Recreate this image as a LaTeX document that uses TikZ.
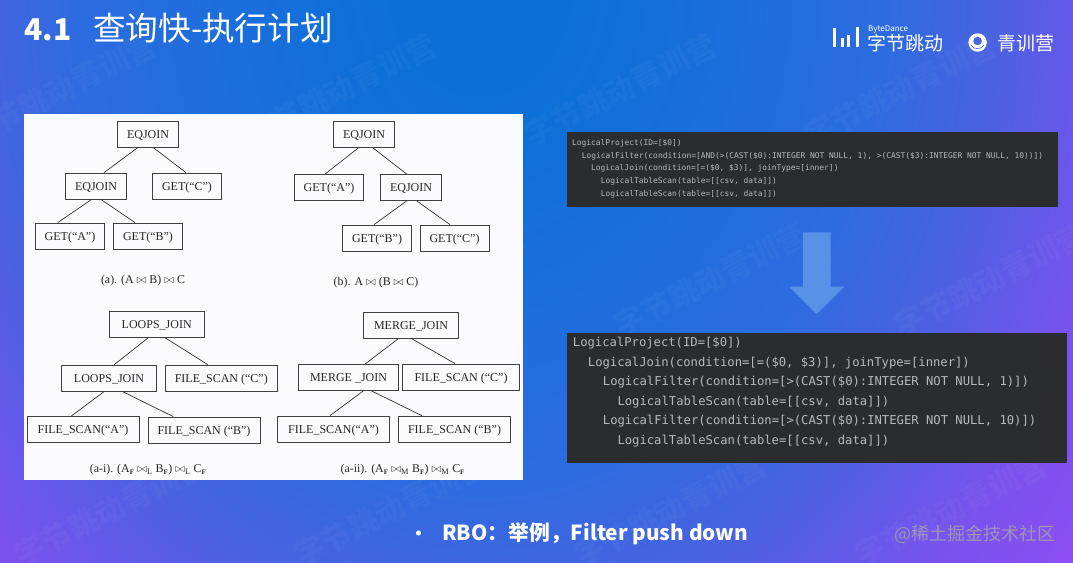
\documentclass[tikz,border=0pt]{standalone}
\usepackage{amsmath,amssymb}
\usepackage{fontspec}
\usepackage{xcolor}
\setmainfont{Liberation Serif}
\setmonofont{DejaVu Sans Mono}
\newfontfamily\cjk{Noto Sans CJK SC}
\usetikzlibrary{calc,positioning}
\definecolor{codebg}{HTML}{2B2C2D}
\definecolor{codefg}{HTML}{B6BABA}
\definecolor{arrowblue}{HTML}{5892E7}
\definecolor{ringhole}{HTML}{4060E2}
\definecolor{slideA}{HTML}{0A70D8}
\definecolor{slideB}{HTML}{2C6CE0}
\definecolor{slideC}{HTML}{4A62E0}
\definecolor{slideD}{HTML}{5A5CE8}
\definecolor{slideE}{HTML}{7A52EE}
\definecolor{slideF}{HTML}{8C4EF2}
\pgfdeclareradialshading{slidebg}{\pgfpoint{0bp}{0bp}}{%
  color(0bp)=(slideA);
  color(2.8bp)=(slideA);
  color(12.5bp)=(slideB);
  color(16.1bp)=(slideC);
  color(17.5bp)=(slideD);
  color(20.4bp)=(slideE);
  color(23.6bp)=(slideF);
  color(50bp)=(slideF)}
\newcommand{\subF}{\textsubscript{\textbf{\fontsize{6.8}{7}\selectfont F}}}

\begin{document}
\begin{tikzpicture}[x=1pt,y=-1pt,
  opbox/.style={draw=black!75,line width=0.8pt,text=black!85,font=\fontsize{12}{14}\selectfont,
    inner sep=0pt,minimum height=26,text height=8pt,text depth=0pt},
  getbox/.style={opbox,minimum width=69},
  joinbox/.style={opbox,minimum width=61},
  scanbox/.style={opbox,minimum width=112},
  bigjoin/.style={opbox,minimum width=95},
  caption/.style={text=black!85,font=\fontsize{11.9}{13}\selectfont,inner sep=0pt},
  edge/.style={draw=black!80,line width=0.7pt},
  smallcode/.style={anchor=mid west,inner sep=0pt,text=codefg,font=\ttfamily\fontsize{7.9}{9}\selectfont},
  bigcode/.style={anchor=mid west,inner sep=0pt,text=codefg,font=\ttfamily\fontsize{12.2}{14}\selectfont},
  wmark/.style={text=white,opacity=0.03,rotate=27,font=\cjk\bfseries\fontsize{30}{34}\selectfont,inner sep=0pt},
  logotext/.style={text=white,inner sep=0pt,font=\cjk\fontsize{19}{21}\selectfont}]
  \useasboundingbox (0,0) rectangle (1073,562);
  \begin{scope}
    \clip (0,0) rectangle (1073,562);
    \shade[shading=slidebg] (480,-20) ellipse (800 and 1000);
  \end{scope}
  \foreach \mx/\my/\mn in {60/90/a,340/90/b,620/90/c,900/90/d,150/280/e,430/280/f,710/280/g,990/280/h,110/510/i,390/510/j,670/510/k,950/510/l}
    \node[wmark] (mark\mn) at (\mx,\my) {字节跳动青训营};

  \node[text=white,inner sep=0pt,anchor=mid west,font=\cjk\bfseries\fontsize{30}{32}\selectfont] (titlenum) at (24,38) {4.1};
  \node[text=white,inner sep=0pt,anchor=mid west,font=\cjk\fontsize{32.6}{35}\selectfont] (title) at (93,38) {查询快-执行计划};

  \foreach \bx/\bt/\bw in {833/28/3.2,840.7/38/2.8,847.3/35/3,856/27/3.2}
    \fill[white] (\bx,\bt) rectangle ++(\bw,47-\bt);
  \node[text=white,inner sep=0pt,anchor=mid west,font=\cjk\fontsize{8}{9}\selectfont] (logobyte) at (868,29.5) {ByteDance};
  \node[logotext,anchor=mid west] (logoname) at (867,48) {字节跳动};
  \fill[white,even odd rule] (977.6,42.5) circle (9.2) (977.6,41) circle (4.4);
  \draw[ringhole,line width=0.6pt] (971,45) .. controls (974,50) and (981,50) .. (984,45);
  \node[logotext,anchor=mid west] (logocamp) at (997,48.5) {青训营};

  \fill[white!98!blue] (24,114) rectangle (523,480);
  \node[joinbox] (topa) at (148,134) {EQJOIN};
  \node[joinbox] (joina) at (96,186) {EQJOIN};
  \node[getbox] (getca) at (187,186) {GET(“C”)};
  \node[getbox] (getaa) at (70,236) {GET(“A”)};
  \node[getbox] (getba) at (148,236) {GET(“B”)};
  \draw[edge] ([xshift=-10]topa.south) -- ([xshift=8]joina.north);
  \draw[edge] ([xshift=5]topa.south) -- ([xshift=-1]getca.north);
  \draw[edge] ([xshift=-4.3]joina.south) -- ([xshift=-12.3]getaa.north);
  \draw[edge] ([xshift=5]joina.south) -- ([xshift=-13]getba.north);
  \node[caption] (capa) at (143,281) {(a). (A $\bowtie$ B) $\bowtie$ C};

  \node[joinbox] (topb) at (364,134) {EQJOIN};
  \node[getbox] (getab) at (329,187.5) {GET(“A”)};
  \node[joinbox] (joinb) at (411,187.5) {EQJOIN};
  \node[getbox] (getbb) at (377,238) {GET(“B”)};
  \node[getbox] (getcb) at (454.5,238) {GET(“C”)};
  \draw[edge] ([xshift=-5]topb.south) -- ([xshift=-4]getab.north);
  \draw[edge] ([xshift=8.3]topb.south) -- ([xshift=-4.3]joinb.north);
  \draw[edge] ([xshift=-4.3]joinb.south) -- ([xshift=-3]getbb.north);
  \draw[edge] ([xshift=5.7]joinb.south) -- ([xshift=-4.5]getcb.north);
  \node[caption] (capb) at (376,283) {(b). A $\bowtie$ (B $\bowtie$ C)};

  \node[bigjoin] (topl) at (156.7,324.3) {LOOPS\_JOIN};
  \node[bigjoin] (joinl) at (109,378) {LOOPS\_JOIN};
  \node[scanbox] (scancl) at (221.3,378) {FILE\_SCAN (“C”)};
  \node[scanbox] (scanal) at (83,429.7) {FILE\_SCAN(“A”)};
  \node[scanbox] (scanbl) at (204,430) {FILE\_SCAN (“B”)};
  \draw[edge] ([xshift=-8.4]topl.south) -- ([xshift=5.3]joinl.north);
  \draw[edge] ([xshift=8.3]topl.south) -- ([xshift=-13.6]scancl.north);
  \draw[edge] ([xshift=-4.7]joinl.south) -- ([xshift=-12]scanal.north);
  \draw[edge] ([xshift=13.3]joinl.south) -- ([xshift=-30.7]scanbl.north);
  \node[caption] (capl) at (148,469.5) {(a-i). (A\subF\ $\bowtie_{\mathrm{L}}$ B\subF) $\bowtie_{\mathrm{L}}$ C\subF};

  \node[bigjoin] (topm) at (411,325.3) {MERGE\_JOIN};
  \node[opbox,minimum width=100] (joinm) at (348.5,377.5) {MERGE \_JOIN};
  \node[scanbox,minimum width=117] (scancm) at (461,377) {FILE\_SCAN (“C”)};
  \node[scanbox] (scanam) at (333.5,429) {FILE\_SCAN(“A”)};
  \node[scanbox] (scanbm) at (454.5,429) {FILE\_SCAN (“B”)};
  \draw[edge] ([xshift=-12.7]topm.south) -- ([xshift=16.5]joinm.north);
  \draw[edge] ([xshift=0.7]topm.south) -- ([xshift=-6]scancm.north);
  \draw[edge] ([xshift=14.8]joinm.south) -- ([xshift=-3.5]scanam.north);
  \draw[edge] ([xshift=23]joinm.south) -- ([xshift=-32.8]scanbm.north);
  \node[caption] (capm) at (402.7,469.5) {(a-ii). (A\subF\ $\bowtie_{\mathrm{M}}$ B\subF) $\bowtie_{\mathrm{M}}$ C\subF};

  \fill[codebg] (567,132.3) rectangle (1057.7,206.7);
  \node[smallcode] (planone) at (572,143.3) {LogicalProject(ID=[\$0])};
  \node[smallcode] (plantwo) at (581.7,156) {LogicalFilter(condition=[AND(>(CAST(\$0):INTEGER NOT NULL, 1), >(CAST(\$3):INTEGER NOT NULL, 10))])};
  \node[smallcode] (planthree) at (591,168.7) {LogicalJoin(condition=[=(\$0, \$3)], joinType=[inner])};
  \node[smallcode] (planfour) at (600.7,181.3) {LogicalTableScan(table=[[csv, data]])};
  \node[smallcode] (planfive) at (600.7,194) {LogicalTableScan(table=[[csv, data]])};

  \fill[arrowblue] (803,232.3) -- (830.7,232.3) -- (830.7,286.7) -- (844.3,286.7) -- (816.7,314) -- (789.3,286.7) -- (803,286.7) -- cycle;

  \fill[codebg] (567.3,333.3) rectangle (1066.7,463.3);
  \node[bigcode] (optone) at (572.7,344.7) {LogicalProject(ID=[\$0])};
  \node[bigcode] (opttwo) at (587.7,364) {LogicalJoin(condition=[=(\$0, \$3)], joinType=[inner])};
  \node[bigcode] (optthree) at (602.7,383.3) {LogicalFilter(condition=[>(CAST(\$0):INTEGER NOT NULL, 1)])};
  \node[bigcode] (optfour) at (617.3,402.7) {LogicalTableScan(table=[[csv, data]])};
  \node[bigcode] (optfive) at (602.7,422) {LogicalFilter(condition=[>(CAST(\$0):INTEGER NOT NULL, 10)])};
  \node[bigcode] (optsix) at (617.3,441.7) {LogicalTableScan(table=[[csv, data]])};

  \fill[white] (418.5,533) circle (2.6);
  \node[text=white,inner sep=0pt,anchor=mid west,font=\cjk\bfseries\fontsize{20.8}{24}\selectfont] (rbo) at (442,538) {RBO：举例，Filter push down};
  \node[text=white!65!black,opacity=0.8,inner sep=0pt,anchor=mid west,font=\cjk\fontsize{18}{20}\selectfont] (site) at (894,538) {@稀土掘金技术社区};
\end{tikzpicture}
\end{document}
